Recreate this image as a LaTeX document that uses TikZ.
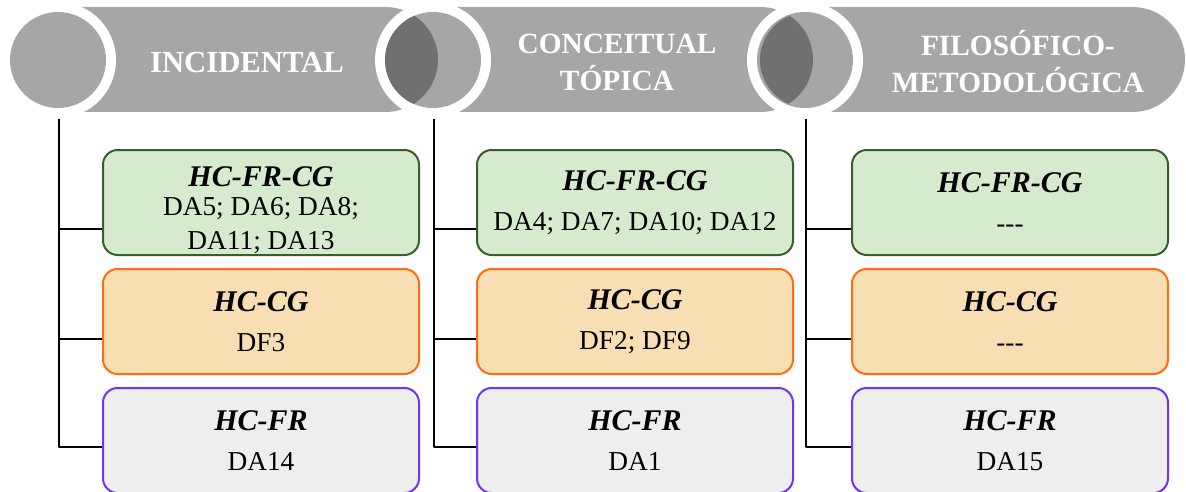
\documentclass[tikz,border=0pt]{standalone}
\usepackage{fontspec}
\setmainfont{Liberation Serif}
\usetikzlibrary{positioning}

\definecolor{bannergray}{HTML}{A6A6A6}
\definecolor{lensgray}{HTML}{707070}
\definecolor{frcgfill}{HTML}{D6EBCD}
\definecolor{frcgdraw}{HTML}{375E2C}
\definecolor{cgfill}{HTML}{F8DFB3}
\definecolor{cgdraw}{HTML}{FF6D10}
\definecolor{frfill}{HTML}{EEEEEE}
\definecolor{frdraw}{HTML}{7433F2}

\newcommand{\hctitle}[1]{{\fontsize{22.5}{27}\selectfont\bfseries\itshape #1}}
\newcommand{\hcbodyfont}{\fontsize{20.5}{25}\selectfont}
\newcommand{\nodash}{-\kern0pt-\kern0pt-}

\begin{document}
\begin{tikzpicture}[x=0.75pt, y=-0.75pt, line join=round,
  banner/.style={fill=bannergray, rounded corners=39.375pt},
  heading/.style={text=white, align=center, font=\fontsize{22}{27.75}\selectfont\bfseries},
  box/.style={draw, line width=1.5pt, rounded corners=11pt, anchor=north west,
    minimum width=237pt, minimum height=78.75pt, inner sep=0pt,
    align=center, font=\hcbodyfont},
  hcfrcg/.style={box, fill=frcgfill, draw=frcgdraw},
  hccg/.style={box, fill=cgfill, draw=cgdraw},
  hcfr/.style={box, fill=frfill, draw=frdraw},
  branch/.style={line width=1.1pt}]
\useasboundingbox (0,0) rectangle (1186,492);

% banners
\foreach \c/\cx in {1/58, 2/433, 3/805}
  \fill [banner] (\cx-52.5,7) rectangle (\cx+380,112);

% circles on the banners
\foreach \c/\cx in {1/58, 2/433, 3/805} {
  \fill [white] (\cx,60) circle (43.5pt);
  \fill [bannergray] (\cx,60) circle (36pt);
  \coordinate (trunk-\c) at (\cx+1,119);
}

% overlap of a banner end with the next circle
\foreach \cx in {58, 433} {
  \begin{scope}
    \clip (\cx+375,60) circle (36pt);
    \fill [lensgray, rounded corners=39.375pt] (\cx-52.5,7) rectangle (\cx+380,112);
  \end{scope}
}

% headings
\node [heading, font=\fontsize{23}{27.75}\selectfont\bfseries] (head-1) at (247,62) {INCIDENTAL};
\node [heading] (head-2) at (617,62) {CONCEITUAL\\TÓPICA};
\node [heading] (head-3) at (1018,62) {FILOSÓFICO-\\METODOLÓGICA};

% boxes
\node [hcfrcg] (box-1-1) at (102,149) {\rule{0pt}{26pt}\hctitle{HC-FR-CG}\\[-3pt]DA5; DA6; DA8;\\DA11; DA13};
\foreach \c/\x/\txt in {2/476/{DA4; DA7; DA10; DA12}, 3/851/\nodash}
  \node [hcfrcg] (box-\c-1) at (\x,149) {\hctitle{HC-FR-CG}\\[5pt]\txt};

\foreach \c/\x/\txt in {1/102/DF3, 2/476/{DF2; DF9}, 3/851/\nodash}
  \node [hccg] (box-\c-2) at (\x,268) {\hctitle{HC-CG}\\[5pt]\txt};

\foreach \c/\x/\txt in {1/102/DA14, 2/476/DA1, 3/851/DA15}
  \node [hcfr] (box-\c-3) at (\x,387) {\hctitle{HC-FR}\\[5pt]\txt};

% edges from the circles to the boxes
\foreach \c in {1, 2, 3} {
  \draw [branch] (trunk-\c) |- ([yshift=-19.9pt]box-\c-1.west);
  \draw [branch] (trunk-\c) |- ([yshift=-13.1pt]box-\c-2.west);
  \draw [branch] (trunk-\c) |- ([yshift=-4.9pt]box-\c-3.west);
}
\end{tikzpicture}
\end{document}
